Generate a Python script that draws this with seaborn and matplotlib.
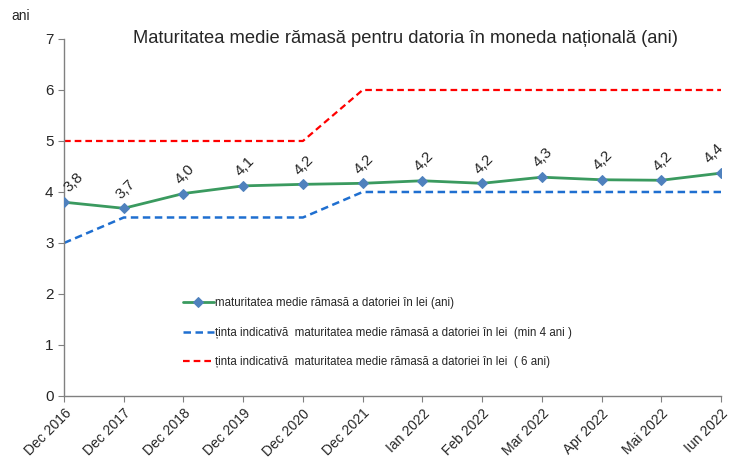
import pandas as pd
import matplotlib.pyplot as plt
import seaborn as sns

sns.set_style("white")
plt.rcParams['font.family'] = ['Liberation Sans', 'DejaVu Sans']

luni = ["Dec 2016", "Dec 2017", "Dec 2018", "Dec 2019", "Dec 2020", "Dec 2021",
        "Ian 2022", "Feb 2022", "Mar 2022", "Apr 2022", "Mai 2022", "Iun 2022"]
maturitate = [3.80, 3.68, 3.97, 4.12, 4.15, 4.17, 4.22, 4.17, 4.29, 4.24, 4.23, 4.37]
tinta_min = [3.0, 3.5, 3.5, 3.5, 3.5, 4.0, 4.0, 4.0, 4.0, 4.0, 4.0, 4.0]
tinta_6 = [5.0, 5.0, 5.0, 5.0, 5.0, 6.0, 6.0, 6.0, 6.0, 6.0, 6.0, 6.0]

lbl_mat = "maturitatea medie rămasă a datoriei în lei (ani)"
lbl_min = "ținta indicativă  maturitatea medie rămasă a datoriei în lei  (min 4 ani )"
lbl_6 = "ținta indicativă  maturitatea medie rămasă a datoriei în lei  ( 6 ani)"

df = pd.DataFrame({"poz": range(len(luni)), "luna": luni, "mat": maturitate,
                   "tmin": tinta_min, "t6": tinta_6})

fig = plt.figure(figsize=(7.3, 4.62), dpi=100)
ax = fig.add_axes([0.0877, 0.1429, 0.9, 0.7727])

sns.lineplot(data=df, x="poz", y="mat", ax=ax, color="#3a9a5f", lw=2,
             marker="D", markersize=5, markerfacecolor="#4f81bd",
             markeredgecolor="#4f81bd", label=lbl_mat, zorder=3)
sns.lineplot(data=df, x="poz", y="tmin", ax=ax, color="#1f6fd0", lw=1.8,
             label=lbl_min, zorder=2)
sns.lineplot(data=df, x="poz", y="t6", ax=ax, color="#ff0000", lw=1.6,
             label=lbl_6, zorder=2)
ax.lines[1].set_linestyle((0, (3, 1.8)))
ax.lines[2].set_linestyle((0, (3, 1.8)))

# etichete de date, cele de la capete mutate spre interior ca in Excel
n = len(maturitate)
for i, v in enumerate(maturitate):
    dx = 7 if i == 0 else (-5 if i == n - 1 else 1)
    ax.annotate(f"{v:.1f}".replace(".", ","), (i, v), xytext=(dx, 14),
                textcoords="offset points", rotation=45, ha="center",
                va="center", fontsize=11, annotation_clip=False)

ax.set_xlim(0, n - 1)
ax.set_ylim(0, 7)
ax.set_yticks(range(8))
ax.set_xticks(df["poz"])
ax.set_xticklabels(luni, rotation=45, ha="right", rotation_mode="anchor", fontsize=10)
ax.tick_params(axis="y", labelsize=11)
ax.tick_params(axis="both", length=4, color="#808080", direction="out", bottom=True, left=True)
ax.set_xlabel("")
ax.set_ylabel("")
for s in ["top", "right"]:
    ax.spines[s].set_visible(False)
for s in ["left", "bottom"]:
    ax.spines[s].set_color("#808080")
    ax.spines[s].set_linewidth(1)

ax.set_title("Maturitatea medie rămasă pentru datoria în moneda națională (ani)",
             fontsize=13.2, x=0.52, pad=-3)
fig.text(0.015, 0.965, "ani", fontsize=10, va="center")

ax.legend(loc="upper left", bbox_to_anchor=(0.165, 0.305), frameon=False,
          fontsize=8.3, labelspacing=1.5, handlelength=2.7, handletextpad=0.1)

fig.savefig("out.png", dpi=100)
